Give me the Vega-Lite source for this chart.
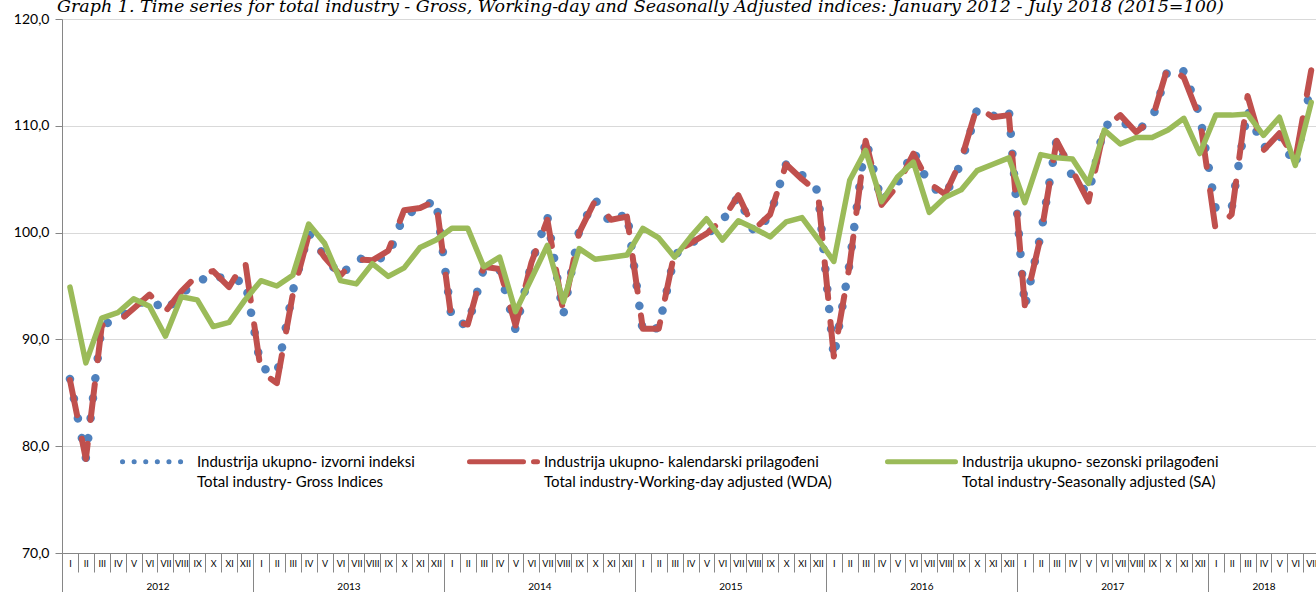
{
  "$schema": "https://vega.github.io/schema/vega-lite/v6.json",
  "width": 1254,
  "height": 534,
  "autosize": "none",
  "padding": {"left": 62, "top": 19, "right": 0, "bottom": 39},
  "background": "white",
  "title": {
    "text": "Graph 1. Time series for total industry - Gross, Working-day and Seasonally Adjusted indices: January 2012 - July 2018 (2015=100)",
    "anchor": "start", "frame": "group", "font": "DejaVu Serif", "fontStyle": "italic", "fontWeight": "normal",
    "fontSize": 17.5, "color": "#000000", "baseline": "alphabetic", "offset": -17, "dx": -5
  },
  "config": {"view": {"stroke": null}, "font": "Lato"},
  "data": {"values": [
    {"m":0,"gross":86.3,"wda":86.2,"sa":94.9},
    {"m":1,"gross":78.9,"wda":78.8,"sa":87.8},
    {"m":2,"gross":91.4,"wda":91.3,"sa":92.0},
    {"m":3,"gross":91.8,"wda":91.6,"sa":92.5},
    {"m":4,"gross":93.0,"wda":92.9,"sa":93.8},
    {"m":5,"gross":93.9,"wda":94.2,"sa":93.1},
    {"m":6,"gross":92.6,"wda":92.6,"sa":90.3},
    {"m":7,"gross":94.3,"wda":94.5,"sa":94.0},
    {"m":8,"gross":95.3,"wda":96.0,"sa":93.7},
    {"m":9,"gross":96.2,"wda":96.4,"sa":91.2},
    {"m":10,"gross":95.3,"wda":94.9,"sa":91.6},
    {"m":11,"gross":95.6,"wda":97.4,"sa":93.7},
    {"m":12,"gross":87.4,"wda":87.0,"sa":95.5},
    {"m":13,"gross":86.7,"wda":85.9,"sa":95.0},
    {"m":14,"gross":94.5,"wda":94.2,"sa":96.0},
    {"m":15,"gross":100.0,"wda":99.8,"sa":100.8},
    {"m":16,"gross":97.8,"wda":97.7,"sa":99.0},
    {"m":17,"gross":95.9,"wda":96.0,"sa":95.5},
    {"m":18,"gross":97.6,"wda":97.5,"sa":95.2},
    {"m":19,"gross":97.4,"wda":97.4,"sa":97.1},
    {"m":20,"gross":97.8,"wda":98.3,"sa":95.9},
    {"m":21,"gross":101.7,"wda":102.1,"sa":96.7},
    {"m":22,"gross":102.2,"wda":102.3,"sa":98.6},
    {"m":23,"gross":103.1,"wda":103.0,"sa":99.3},
    {"m":24,"gross":91.8,"wda":91.6,"sa":100.4},
    {"m":25,"gross":91.3,"wda":91.4,"sa":100.4},
    {"m":26,"gross":96.6,"wda":96.8,"sa":96.8},
    {"m":27,"gross":96.5,"wda":96.6,"sa":97.7},
    {"m":28,"gross":90.9,"wda":91.3,"sa":92.6},
    {"m":29,"gross":97.1,"wda":97.2,"sa":95.7},
    {"m":30,"gross":101.5,"wda":101.2,"sa":98.8},
    {"m":31,"gross":92.3,"wda":92.6,"sa":93.5},
    {"m":32,"gross":100.2,"wda":100.0,"sa":98.5},
    {"m":33,"gross":103.1,"wda":103.0,"sa":97.5},
    {"m":34,"gross":100.8,"wda":101.2,"sa":97.7},
    {"m":35,"gross":101.9,"wda":101.5,"sa":97.9},
    {"m":36,"gross":90.7,"wda":91.0,"sa":100.4},
    {"m":37,"gross":91.1,"wda":91.0,"sa":99.5},
    {"m":38,"gross":97.9,"wda":98.2,"sa":97.7},
    {"m":39,"gross":99.0,"wda":99.0,"sa":99.6},
    {"m":40,"gross":99.8,"wda":99.9,"sa":101.3},
    {"m":41,"gross":101.1,"wda":101.2,"sa":99.3},
    {"m":42,"gross":103.4,"wda":103.5,"sa":101.1},
    {"m":43,"gross":100.0,"wda":100.3,"sa":100.4},
    {"m":44,"gross":101.6,"wda":101.7,"sa":99.6},
    {"m":45,"gross":106.4,"wda":106.4,"sa":101.0},
    {"m":46,"gross":105.4,"wda":105.0,"sa":101.4},
    {"m":47,"gross":103.9,"wda":103.8,"sa":99.4},
    {"m":48,"gross":88.3,"wda":88.4,"sa":97.3},
    {"m":49,"gross":97.2,"wda":97.0,"sa":104.9},
    {"m":50,"gross":108.8,"wda":108.6,"sa":107.7},
    {"m":51,"gross":102.9,"wda":102.6,"sa":102.9},
    {"m":52,"gross":104.6,"wda":104.4,"sa":105.2},
    {"m":53,"gross":107.7,"wda":107.4,"sa":106.6},
    {"m":54,"gross":104.4,"wda":104.6,"sa":101.9},
    {"m":55,"gross":103.5,"wda":103.6,"sa":103.3},
    {"m":56,"gross":106.5,"wda":106.8,"sa":104.0},
    {"m":57,"gross":111.5,"wda":111.8,"sa":105.8},
    {"m":58,"gross":110.9,"wda":110.8,"sa":106.4},
    {"m":59,"gross":111.5,"wda":111.0,"sa":107.0},
    {"m":60,"gross":93.0,"wda":93.2,"sa":102.8},
    {"m":61,"gross":99.8,"wda":99.6,"sa":107.3},
    {"m":62,"gross":108.7,"wda":108.6,"sa":107.0},
    {"m":63,"gross":105.2,"wda":105.8,"sa":106.9},
    {"m":64,"gross":103.6,"wda":102.9,"sa":104.6},
    {"m":65,"gross":110.0,"wda":109.8,"sa":109.6},
    {"m":66,"gross":110.5,"wda":111.0,"sa":108.3},
    {"m":67,"gross":109.5,"wda":109.4,"sa":108.9},
    {"m":68,"gross":110.6,"wda":110.6,"sa":108.9},
    {"m":69,"gross":115.3,"wda":115.6,"sa":109.6},
    {"m":70,"gross":115.1,"wda":114.5,"sa":110.7},
    {"m":71,"gross":111.0,"wda":110.7,"sa":107.4},
    {"m":72,"gross":102.2,"wda":100.2,"sa":111.0},
    {"m":73,"gross":102.3,"wda":101.7,"sa":111.0},
    {"m":74,"gross":111.5,"wda":112.8,"sa":111.1},
    {"m":75,"gross":107.9,"wda":107.7,"sa":109.1},
    {"m":76,"gross":109.1,"wda":109.3,"sa":110.8},
    {"m":77,"gross":106.2,"wda":106.8,"sa":106.3},
    {"m":78,"gross":114.0,"wda":115.2,"sa":112.2}
  ]},
  "transform": [{"fold": ["gross", "wda", "sa"], "as": ["series", "value"]}],
  "layer": [
    {
      "transform": [{"filter": "datum.series === 'gross'"}],
      "mark": {"type": "line", "strokeCap": "round", "strokeJoin": "round", "strokeDash": [0.1, 20], "strokeWidth": 8.5},
      "encoding": {
        "x": {
          "field": "m", "type": "quantitative",
          "scale": {"domain": [-0.5, 78.3], "nice": false, "zero": false},
          "axis": {
            "orient": "bottom", "title": null, "labels": false, "grid": false,
            "values": [-0.5,0.5,1.5,2.5,3.5,4.5,5.5,6.5,7.5,8.5,9.5,10.5,11.5,12.5,13.5,14.5,15.5,16.5,17.5,18.5,19.5,20.5,21.5,22.5,23.5,24.5,25.5,26.5,27.5,28.5,29.5,30.5,31.5,32.5,33.5,34.5,35.5,36.5,37.5,38.5,39.5,40.5,41.5,42.5,43.5,44.5,45.5,46.5,47.5,48.5,49.5,50.5,51.5,52.5,53.5,54.5,55.5,56.5,57.5,58.5,59.5,60.5,61.5,62.5,63.5,64.5,65.5,66.5,67.5,68.5,69.5,70.5,71.5,72.5,73.5,74.5,75.5,76.5,77.5],
            "domainColor": "#868686", "domainWidth": 1, "tickColor": "#868686", "tickWidth": 1,
            "tickSize": {"condition": {"test": "(datum.value + 0.5) % 12 === 0", "value": 39}, "value": 19}
          }
        },
        "y": {
          "field": "value", "type": "quantitative",
          "scale": {"domain": [70, 120], "nice": false, "zero": false},
          "axis": {
            "title": null, "values": [70, 80, 90, 100, 110, 120],
            "labelExpr": "replace(format(datum.value, '.1f'), '.', ',')",
            "grid": true, "gridColor": "#d9d9d9", "gridWidth": 1,
            "domainColor": "#868686", "tickColor": "#868686", "tickSize": 7,
            "labelPadding": 6, "labelFontSize": 14, "labelFont": "Lato", "labelColor": "#000000"
          }
        },
        "color": {
          "field": "series", "type": "nominal",
          "scale": {"domain": ["gross", "wda", "sa"], "range": ["#4f81bd", "#c0504d", "#9bbb59"]},
          "legend": {
            "title": null, "orient": "none", "legendX": 58, "legendY": 406, "direction": "horizontal", "columns": 3,
            "columnPadding": 44, "padding": 0, "symbolType": "stroke", "symbolSize": 4624, "symbolStrokeWidth": 5,
            "labelOffset": 4, "labelLimit": 400, "labelFontSize": 15, "labelFont": "Lato", "labelColor": "#000000",
            "labelExpr": "datum.value === 'gross' ? ['Industrija ukupno- izvorni indeksi', 'Total industry- Gross Indices'] : datum.value === 'wda' ? ['Industrija ukupno- kalendarski prilagođeni', 'Total industry-Working-day adjusted (WDA)'] : ['Industrija ukupno- sezonski prilagođeni', 'Total industry-Seasonally adjusted (SA)']",
            "encode": {
              "symbols": {"update": {
                "strokeDash": {"signal": "datum.value === 'gross' ? [0.1, 11.5] : datum.value === 'wda' ? [54, 10] : [1, 0]"},
                "strokeWidth": {"value": 5},
                "strokeCap": {"value": "round"}
              }},
              "labels": {"update": {"lineHeight": {"value": 20}}}
            }
          }
        }
      }
    },
    {
      "transform": [{"filter": "datum.series === 'wda'"}],
      "mark": {"type": "line", "strokeCap": "round", "strokeJoin": "round", "strokeDash": [36, 24], "strokeWidth": 6},
      "encoding": {
        "x": {
          "field": "m", "type": "quantitative",
          "axis": {
            "orient": "bottom", "title": null, "grid": false, "domain": false, "ticks": false, "tickSize": 0,
            "values": [0,1,2,3,4,5,6,7,8,9,10,11,12,13,14,15,16,17,18,19,20,21,22,23,24,25,26,27,28,29,30,31,32,33,34,35,36,37,38,39,40,41,42,43,44,45,46,47,48,49,50,51,52,53,54,55,56,57,58,59,60,61,62,63,64,65,66,67,68,69,70,71,72,73,74,75,76,77,78],
            "labelExpr": "['I','II','III','IV','V','VI','VII','VIII','IX','X','XI','XII'][datum.value % 12]",
            "labelFontSize": 9, "labelFont": "Lato", "labelColor": "#000000", "labelPadding": 6,
            "labelOverlap": false, "labelFlush": false, "labelBound": false
          }
        },
        "y": {"field": "value", "type": "quantitative"},
        "color": {"field": "series", "type": "nominal"}
      }
    },
    {
      "transform": [{"filter": "datum.series === 'sa'"}],
      "mark": {"type": "line", "strokeCap": "round", "strokeJoin": "round", "strokeWidth": 5.5},
      "encoding": {
        "x": {
          "field": "m", "type": "quantitative",
          "axis": {
            "orient": "bottom", "title": null, "grid": false, "domain": false, "ticks": false, "tickSize": 0,
            "values": [5.5, 17.5, 29.5, 41.5, 53.5, 65.5, 75],
            "labelExpr": "2012 + floor(datum.value / 12)",
            "labelFontSize": 10, "labelFont": "Lato", "labelColor": "#000000", "labelPadding": 28,
            "labelOverlap": false, "labelFlush": false, "labelBound": false
          }
        },
        "y": {"field": "value", "type": "quantitative"},
        "color": {"field": "series", "type": "nominal"}
      }
    }
  ],
  "resolve": {"axis": {"x": "independent"}}
}
